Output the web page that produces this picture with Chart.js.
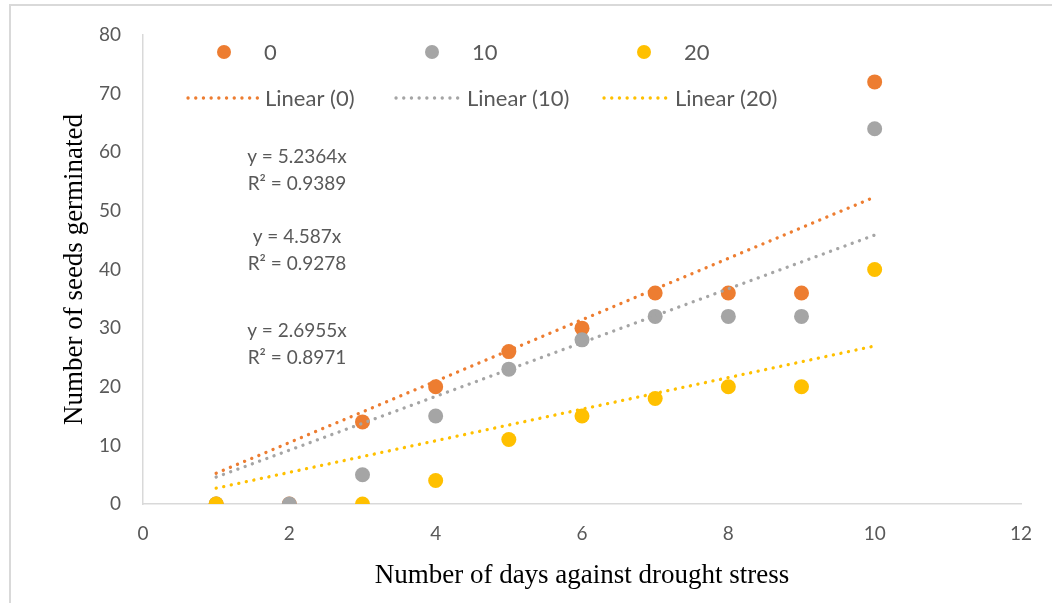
<!DOCTYPE html>
<html>
<head>
<meta charset="utf-8">
<script src="https://cdn.jsdelivr.net/npm/chart.js@4.4.0/dist/chart.umd.min.js"></script>
<style>
  html, body { margin: 0; padding: 0; background: #fff; overflow: hidden; }
  #frame { position: absolute; left: 9px; top: 4px; width: 1100px; height: 700px; border-top: 2px solid #d9d9d9; border-left: 2px solid #d9d9d9; }
  #wrap { position: absolute; left: 0; top: 0; width: 1052px; height: 603px; }
</style>
</head>
<body>
<div id="frame"></div>
<div id="wrap"><canvas id="myChart" width="1052" height="603"></canvas></div>
<script>
// days against drought stress
const days = [1, 2, 3, 4, 5, 6, 7, 8, 9, 10];
const seeds0 = [0, 0, 14, 20, 26, 30, 36, 36, 36, 72];
const seeds10 = [0, 0, 5, 15, 23, 28, 32, 32, 32, 64];
const seeds20 = [0, null, 0, 4, 11, 15, 18, 20, 20, 40];   // no point at day 2
const seriesNames = ['0', '10', '20'];
const colors = ['#ED7D31', '#A5A5A5', '#FFC000'];
// trendlines through origin, from the equations on the chart
const slopes = [5.2364, 4.587, 2.6955];
const trendRange = [1, 10];
const equations = [
    ['y = 5.2364x', 'R² = 0.9389'],
    ['y = 4.587x', 'R² = 0.9278'],
    ['y = 2.6955x', 'R² = 0.8971']
];

function toPoints(ys) {
    const pts = [];
    days.forEach((d, i) => { if (ys[i] !== null) pts.push({x: d, y: ys[i]}); });
    return pts;
}

const tickFont = 'Lato, "Open Sans", sans-serif';
const titleFont = '"Liberation Serif", "Times New Roman", serif';
const dots = [0.1, 7.6];
const allSeeds = [seeds0, seeds10, seeds20];

const datasets = [];
allSeeds.forEach((s, i) => {
    datasets.push({
        type: 'scatter',
        label: seriesNames[i],
        data: toPoints(s),
        backgroundColor: colors[i],
        borderColor: colors[i],
        pointRadius: 7.5,
        pointHoverRadius: 7.5,
        borderWidth: 0,
        order: 3 - i
    });
});
slopes.forEach((m, i) => {
    datasets.push({
        type: 'line',
        label: 'Linear (' + seriesNames[i] + ')',
        data: trendRange.map(x => ({x: x, y: m * x})),
        borderColor: colors[i],
        borderWidth: 3.3,
        borderDash: dots,
        borderCapStyle: 'round',
        pointRadius: 0,
        fill: false,
        order: 0
    });
});

// legend + equation labels drawn inside the plot, like the Excel chart
const overlay = {
    id: 'overlay',
    afterDraw(chart) {
        const ctx = chart.ctx;
        ctx.save();
        ctx.fillStyle = '#595959';
        ctx.textBaseline = 'middle';
        const markerX = [224, 432, 644];
        const lineX = [[188, 258], [396, 460], [604, 668]];
        ctx.font = '22px ' + tickFont;
        for (let i = 0; i < 3; i++) {
            ctx.fillStyle = colors[i];
            ctx.beginPath();
            ctx.arc(markerX[i], 52, 7, 0, Math.PI * 2);
            ctx.fill();
            ctx.fillStyle = '#595959';
            ctx.textAlign = 'left';
            ctx.fillText(seriesNames[i], markerX[i] + 40, 53);

            ctx.strokeStyle = colors[i];
            ctx.lineWidth = 3.3;
            ctx.lineCap = 'round';
            ctx.setLineDash(dots);
            ctx.beginPath();
            ctx.moveTo(lineX[i][0], 98);
            ctx.lineTo(lineX[i][1], 98);
            ctx.stroke();
            ctx.setLineDash([]);
            ctx.fillText('Linear (' + seriesNames[i] + ')', lineX[i][1] + 7, 99);
        }
        ctx.font = '19px ' + tickFont;
        ctx.textAlign = 'center';
        const eqY = [157, 237, 331];
        equations.forEach((e, i) => {
            ctx.fillText(e[0], 297, eqY[i]);
            ctx.fillText(e[1], 297, eqY[i] + 27);
        });
        ctx.restore();
    }
};

const myChart = new Chart(document.getElementById('myChart'), {
    type: 'scatter',
    data: { datasets: datasets },
    plugins: [overlay],
    options: {
        responsive: false,
        animation: false,
        layout: { padding: { left: 0, right: 31, top: 35, bottom: 0 } },
        scales: {
            x: {
                type: 'linear',
                min: 0, max: 12,
                ticks: { stepSize: 2, color: '#595959', font: { family: tickFont, size: 19 }, padding: 18 },
                grid: { display: false, drawTicks: false },
                border: { display: true, color: '#d9d9d9', width: 1.5 },
                title: {
                    display: true,
                    text: 'Number of days against drought stress',
                    color: '#000',
                    font: { family: titleFont, size: 27 },
                    padding: { top: 0, bottom: 11 }
                },
                afterFit: s => { s.height = 99; }
            },
            y: {
                min: 0, max: 80,
                ticks: { stepSize: 10, color: '#595959', font: { family: tickFont, size: 19 }, padding: 22 },
                grid: { display: false, drawTicks: false },
                border: { display: true, color: '#d9d9d9', width: 1.5 },
                title: {
                    display: true,
                    text: 'Number of seeds germinated',
                    color: '#000',
                    font: { family: titleFont, size: 27 },
                    padding: { top: 59, bottom: 0 }
                },
                afterFit: s => { s.width = 143; }
            }
        },
        plugins: {
            legend: { display: false },
            tooltip: { enabled: false }
        }
    }
});
</script>
</body>
</html>
